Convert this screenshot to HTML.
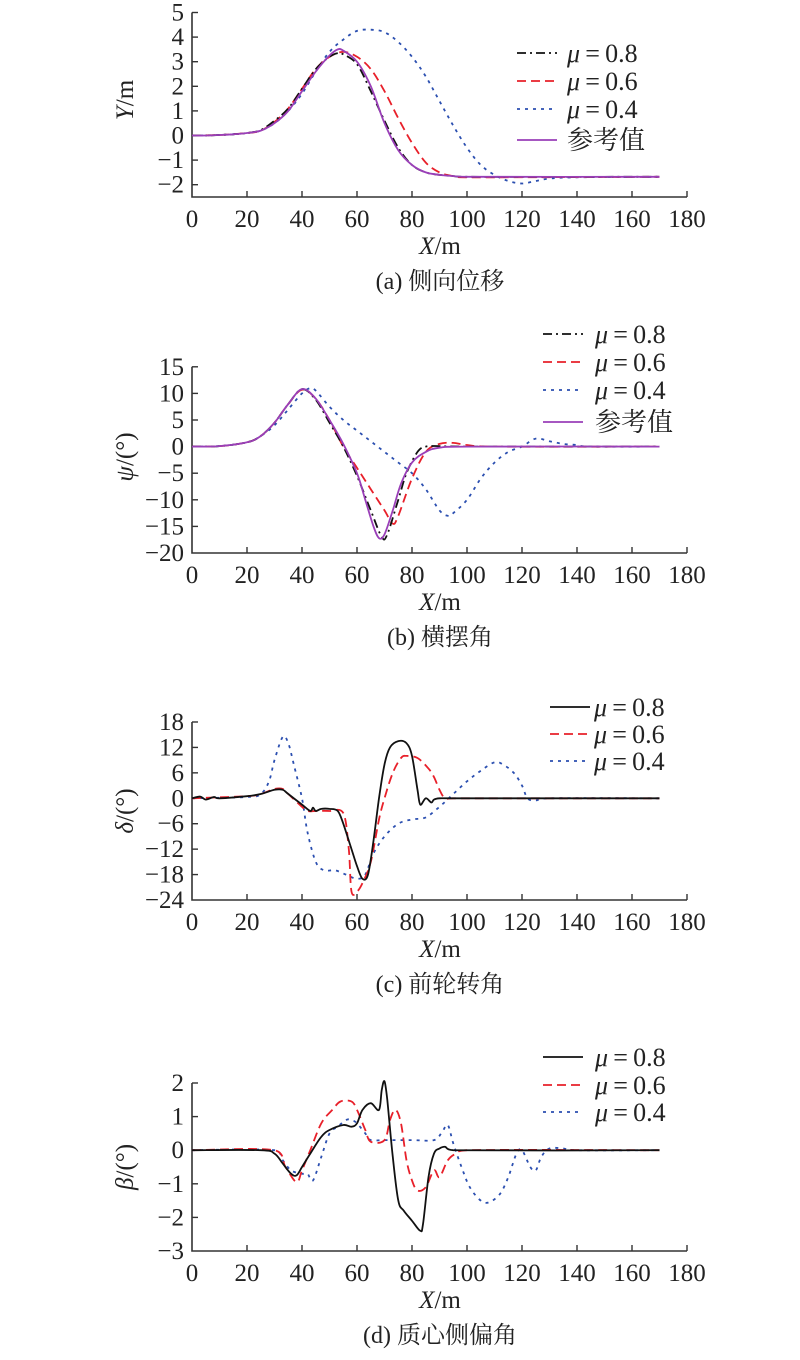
<!DOCTYPE html>
<html><head><meta charset="utf-8"><style>
html,body{margin:0;padding:0;background:#fff;}
svg{display:block;font-family:"Liberation Serif","Noto Serif CJK SC",serif;}
</style></head><body>
<svg id="chart" width="800" height="1360" viewBox="0 0 800 1360" xmlns="http://www.w3.org/2000/svg"></svg>
<script>
// ---- data (a) lateral displacement Y ----
const aX = [0,5,10,15,20,25,30,35,40,45,50,53,55,60,65,70,75,80,85,90,95,100,170];
const aRef = [0,0,0.02,0.05,0.1,0.2,0.5,1.0,1.8,2.6,3.25,3.5,3.45,3.0,2.0,0.5,-0.6,-1.2,-1.5,-1.6,-1.65,-1.68,-1.68];
const a08 = [0,0,0.02,0.05,0.1,0.22,0.6,1.1,1.9,2.7,3.2,3.35,3.3,2.9,1.8,0.6,-0.5,-1.2,-1.5,-1.6,-1.65,-1.68,-1.68];
const a06X = [0,10,20,25,30,35,40,45,50,55,60,65,70,75,80,85,90,95,100,170];
const a06 = [0,0.02,0.1,0.2,0.55,1.1,1.9,2.7,3.2,3.4,3.2,2.7,1.8,0.7,-0.3,-1.1,-1.5,-1.65,-1.7,-1.68];
const a04X = [0,10,20,25,30,35,40,45,50,55,60,65,70,75,80,85,90,95,100,105,110,115,120,125,130,140,170];
const a04 = [0,0.02,0.1,0.2,0.5,1.0,1.7,2.6,3.4,3.9,4.25,4.3,4.2,3.8,3.2,2.4,1.4,0.4,-0.5,-1.2,-1.6,-1.85,-1.95,-1.85,-1.75,-1.7,-1.68];
const aYTicks = [-2,-1,0,1,2,3,4,5];
// ---- data (b) yaw angle ----
const bRefX = [0,10,20,25,30,35,40,45,50,55,60,63,66,68,70,73,76,80,85,90,100,170];
const bRef = [0,0.1,0.8,2,4.5,8,10.8,9,5,0.5,-5,-10,-15,-17.2,-16.5,-12,-7,-3,-1,-0.2,0,0];
const b08X = [0,10,20,25,30,35,40,45,50,55,60,65,69,71,75,78,82,85,90,100,170];
const b08 = [0,0.1,0.8,2,4.5,8,10.8,8.8,4.5,0,-5.5,-12,-17,-16.5,-10,-5,-1,0,0.1,0,0];
const b06X = [0,10,20,25,30,35,40,45,50,55,60,65,70,73,75,80,85,90,95,100,110,170];
const b06 = [0,0.1,0.8,2,4.5,8,10.7,9,5,0,-4,-8,-12,-14.5,-13,-6,-1,0.5,0.7,0.3,0,0];
const b04X = [0,10,20,25,30,35,40,43,45,50,55,60,65,70,75,80,85,90,93,95,100,105,110,115,120,125,130,135,140,145,170];
const b04 = [0,0.1,0.8,2,4,7,10,11,10.5,7.5,5,3,1,-1,-3,-5,-8,-12,-13,-12.5,-10,-6,-3,-1,0,1.5,1,0.5,0.3,0,0];
const bYTicks = [-20,-15,-10,-5,0,5,10,15];
// ---- data (c) front wheel angle ----
const c08X = [0,3,5,8,10,20,25,30,33,35,40,43,44,45,47,50,53,55,58,60,62,64,66,68,70,72,75,78,80,82,83,85,87,88,90,95,170];
const c08 = [0,0.4,-0.3,0.3,0,0.5,1,2,2,1,-1.5,-3,-2.2,-3,-2.5,-2.5,-3,-6,-12,-16,-19,-18,-10,0,8,12,13.5,13,10,2,-1.5,0,-1,-0.3,0,0,0];
const c06X = [0,20,25,30,33,35,40,42,45,50,55,57,58,60,62,65,68,70,73,76,78,82,86,88,90,92,95,170];
const c06 = [0,0.5,1,2.2,2.2,1,-2,-3,-3,-3,-3.5,-12,-22,-22,-20,-15,-5,0,6,9.5,10,9.5,7,5,2,0,0,0];
const c04X = [0,20,25,28,30,33,35,37,40,42,45,48,52,56,60,63,66,70,75,80,85,90,95,100,105,110,113,117,120,122,125,130,170];
const c04 = [0,0.3,1,4,9,14.5,13,8,0,-8,-15,-17,-17,-18,-19,-18,-13,-9,-6,-5,-4.5,-2,1,4,6.5,8.5,8,6,3,0,-0.5,0,0];
const cYTicks = [-24,-18,-12,-6,0,6,12,18];
// ---- data (d) sideslip angle ----
const d08X = [0,25,30,33,36,38,40,43,47,50,55,58,60,62,65,68,69,70,71,73,75,77,80,83,84,86,88,90,92,95,170];
const d08 = [0,0,-0.1,-0.4,-0.7,-0.75,-0.5,-0.1,0.4,0.6,0.75,0.7,0.8,1.2,1.4,1.2,1.8,2.05,1.5,-0.2,-1.5,-1.8,-2.1,-2.4,-2.2,-0.8,-0.1,0.05,0.1,0,0];
const d06X = [0,30,34,38,40,43,47,51,54,58,60,63,65,70,72,74,76,78,80,82,85,88,90,93,96,100,170];
const d06 = [0,0,-0.5,-0.95,-0.6,0,0.8,1.2,1.45,1.45,1.2,0.6,0.25,0.3,0.9,1.2,0.8,-0.3,-0.9,-1.2,-1.1,-0.6,-0.8,-0.3,-0.1,0,0];
const d04X = [0,30,33,36,40,42,44,47,50,53,56,58,60,63,65,70,80,88,91,93,95,98,101,105,108,112,115,118,120,123,125,127,130,135,140,170];
const d04 = [0,0,-0.3,-0.6,-0.7,-0.7,-0.9,-0.2,0.5,0.7,0.9,0.9,0.8,0.5,0.3,0.3,0.3,0.3,0.55,0.75,0.2,-0.5,-1.1,-1.5,-1.55,-1.3,-0.8,-0.1,0,-0.5,-0.6,-0.2,0.05,0.05,0,0];
const dYTicks = [-3,-2,-1,0,1,2];
const xTicks = [0,20,40,60,80,100,120,140,160,180];

const NS = "http://www.w3.org/2000/svg";
const svg = document.getElementById('chart');
function mk(tag, attrs, parent){const e=document.createElementNS(NS,tag);for(const k in attrs)e.setAttribute(k,attrs[k]);(parent||svg).appendChild(e);return e;}
const X0=192, XS=2.75;
function xs(v){return X0+v*XS;}
const STY={
  dashdot:{stroke:'#111','stroke-dasharray':'9,4,2,4'},
  solid:{stroke:'#111'},
  red:{stroke:'#e8202a','stroke-dasharray':'9,5'},
  blue:{stroke:'#2b4fb0','stroke-dasharray':'3,5'},
  purple:{stroke:'#9a3fb8'}
};
function smoothPath(P){
  let d='M'+P[0][0].toFixed(1)+','+P[0][1].toFixed(1);
  for(let i=0;i<P.length-1;i++){
    const p0=P[i-1]||P[i],p1=P[i],p2=P[i+1],p3=P[i+2]||P[i+1];
    const t=1/6;
    const c1=[p1[0]+(p2[0]-p0[0])*t,p1[1]+(p2[1]-p0[1])*t];
    const c2=[p2[0]-(p3[0]-p1[0])*t,p2[1]-(p3[1]-p1[1])*t];
    // keep control x within segment
    c1[0]=Math.min(Math.max(c1[0],p1[0]),p2[0]);c2[0]=Math.min(Math.max(c2[0],p1[0]),p2[0]);
    d+='C'+c1[0].toFixed(1)+','+c1[1].toFixed(1)+' '+c2[0].toFixed(1)+','+c2[1].toFixed(1)+' '+p2[0].toFixed(1)+','+p2[1].toFixed(1);
  }
  return d;
}
function panel(p){
  const g=mk('g',{});
  
  
  const ys=v=>p.yBot-(v-p.yMin)*p.k;
  const ax=mk('path',{d:`M${X0},${ys(p.yTicks[p.yTicks.length-1])}V${p.yBot}H${xs(180)}`,fill:'none',stroke:'#333','stroke-width':1.6},g);
  
  p.yTicks.forEach(t=>{
    const y=ys(t);
    if(Math.abs(y-p.yBot)>1) mk('line',{x1:X0,x2:X0+6,y1:y,y2:y,stroke:'#333','stroke-width':1.4},g);
    const tx=mk('text',{x:184,y:y+8,'text-anchor':'end','font-size':25,fill:'#222'},g);
    
    tx.textContent=(t<0?'\u2212'+(-t):String(t));
  });
  xTicks.forEach(t=>{
    const x=xs(t);
    if(t>0) mk('line',{x1:x,x2:x,y1:p.yBot,y2:p.yBot-6,stroke:'#333','stroke-width':1.4},g);
    const tx=mk('text',{x:x,y:p.yBot+30,'text-anchor':'middle','font-size':25,fill:'#222'},g);
    
    tx.textContent=String(t);
  });
  p.series.forEach(s=>{
    const pts=s.x.map((v,i)=>[xs(v),ys(s.y[i])]);
    const a=Object.assign({d:smoothPath(pts),fill:'none','stroke-width':1.8},STY[s.style]);
    const l=mk('path',a,g);
    
  });
  p.legend.rows.forEach((r,i)=>{
    const y=p.legend.y[i];
    const a=Object.assign({x1:p.legend.x1,x2:p.legend.x2,y1:y,y2:y,'stroke-width':1.8},STY[r.style]);
    mk('line',a,g);
    const tx=mk('text',{x:p.legend.tx,y:y+9,'font-size':26,fill:'#222'},g);
    
    if(r.mu){tx.innerHTML='<tspan font-style="italic">μ</tspan>\u2009=\u20090.'+r.mu;}else{tx.textContent=r.label;}
  });
  const xl=mk('text',{x:440,y:p.yBot+57,'text-anchor':'middle','font-size':25,fill:'#222'},g);
  
  xl.innerHTML='<tspan font-style="italic">X</tspan>/m';
  const yl=mk('text',{x:0,y:0,'text-anchor':'middle','font-size':25,fill:'#222',transform:`translate(133,${p.yMid}) rotate(-90)`},g);
  
  yl.innerHTML='<tspan font-style="italic">'+p.ysym+'</tspan>'+p.yunit;
  const cp=mk('text',{x:440,y:p.yBot+92,'text-anchor':'middle','font-size':24,fill:'#222'},g);
  
  cp.textContent=p.caption;
}
panel({name:'panel-a-lateral-displacement',yMin:-2.5,yBot:197,k:24.6,yTicks:aYTicks,yMid:100,ysym:'Y',yunit:'/m',caption:'(a) 侧向位移',
  series:[{name:'line-mu-0.4',x:a04X,y:a04,style:'blue'},{name:'line-mu-0.6',x:a06X,y:a06,style:'red'},{name:'line-mu-0.8',x:aX,y:a08,style:'dashdot'},{name:'line-reference',x:aX,y:aRef,style:'purple'}],
  legend:{x1:517,x2:557,tx:567,y:[53,81,109,140],rows:[{mu:8,style:'dashdot'},{mu:6,style:'red'},{mu:4,style:'blue'},{label:'参考值',style:'purple'}]}});
panel({name:'panel-b-yaw-angle',yMin:-20,yBot:553,k:5.32,yTicks:bYTicks,yMid:457,ysym:'ψ',yunit:'/(°)',caption:'(b) 横摆角',
  series:[{name:'line-mu-0.4',x:b04X,y:b04,style:'blue'},{name:'line-mu-0.6',x:b06X,y:b06,style:'red'},{name:'line-mu-0.8',x:b08X,y:b08,style:'dashdot'},{name:'line-reference',x:bRefX,y:bRef,style:'purple'}],
  legend:{x1:543,x2:583,tx:595,y:[334,362,390,422],rows:[{mu:8,style:'dashdot'},{mu:6,style:'red'},{mu:4,style:'blue'},{label:'参考值',style:'purple'}]}});
panel({name:'panel-c-front-wheel-angle',yMin:-24,yBot:900,k:25.43/6,yTicks:cYTicks,yMid:811,ysym:'δ',yunit:'/(°)',caption:'(c) 前轮转角',
  series:[{name:'line-mu-0.4',x:c04X,y:c04,style:'blue'},{name:'line-mu-0.6',x:c06X,y:c06,style:'red'},{name:'line-mu-0.8',x:c08X,y:c08,style:'solid'}],
  legend:{x1:550,x2:590,tx:594,y:[707,734,761],rows:[{mu:8,style:'solid'},{mu:6,style:'red'},{mu:4,style:'blue'}]}});
panel({name:'panel-d-sideslip-angle',yMin:-3,yBot:1251,k:33.6,yTicks:dYTicks,yMid:1167,ysym:'β',yunit:'/(°)',caption:'(d) 质心侧偏角',
  series:[{name:'line-mu-0.4',x:d04X,y:d04,style:'blue'},{name:'line-mu-0.6',x:d06X,y:d06,style:'red'},{name:'line-mu-0.8',x:d08X,y:d08,style:'solid'}],
  legend:{x1:543,x2:583,tx:595,y:[1057,1085,1112],rows:[{mu:8,style:'solid'},{mu:6,style:'red'},{mu:4,style:'blue'}]}});
</script>
</body></html>
